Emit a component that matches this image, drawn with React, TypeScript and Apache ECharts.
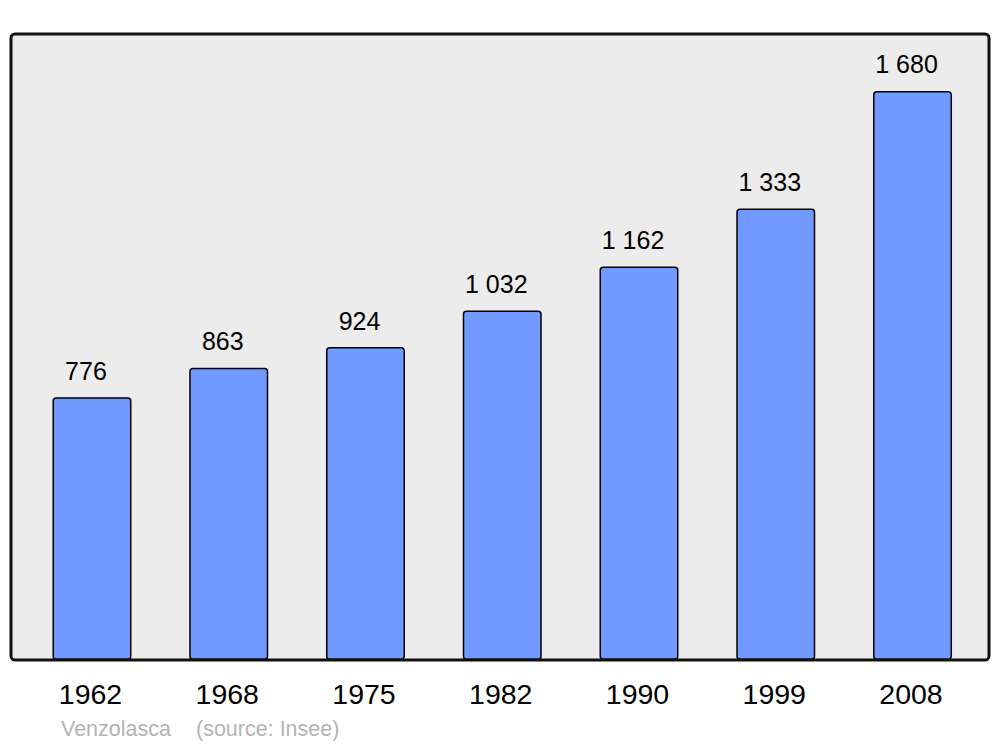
import React, { useEffect, useRef } from "react";
import * as echarts from "echarts";

const years = ["1962", "1968", "1975", "1982", "1990", "1999", "2008"];
const population = [776, 863, 924, 1032, 1162, 1333, 1680];
const townName = "Venzolasca";
const sourceText = "(source: Insee)";

const fmt = (v: number) => String(v).replace(/\B(?=(\d{3})+(?!\d))/g, " ");

export default function App() {
  const ref = useRef<HTMLDivElement>(null);
  useEffect(() => {
    document.body.style.margin = "0";
    const chart = echarts.init(ref.current!, null, { renderer: "svg" });
    const font = "Liberation Sans, Arial, sans-serif";
    chart.setOption({
      animation: false,
      backgroundColor: "#ffffff",
      grid: { left: 23.6, right: 19.1, top: 34, bottom: 87, containLabel: false },
      xAxis: {
        type: "category",
        data: years,
        axisLine: { show: false },
        axisTick: { show: false },
        axisLabel: { fontSize: 28.5, color: "#000", fontFamily: font, margin: 19, padding: [0, 3, 0, 0] },
      },
      yAxis: {
        type: "value",
        min: 0,
        max: 1848,
        show: false,
        splitLine: { show: false },
      },
      graphic: [
        {
          type: "rect",
          z: -10,
          shape: { x: 11, y: 34, width: 978, height: 626, r: 4 },
          style: { fill: "#ececec", stroke: "none" },
        },
        {
          type: "rect",
          z: 100,
          shape: { x: 11, y: 34, width: 978, height: 626, r: 4 },
          style: { fill: "none", stroke: "#111111", lineWidth: 3 },
        },
        {
          type: "text",
          left: 61,
          top: 718,
          style: { text: townName, fontSize: 21.5, fill: "#b3b3b3", fontFamily: font },
        },
        {
          type: "text",
          left: 196,
          top: 718,
          style: { text: sourceText, fontSize: 21.5, fill: "#b3b3b3", fontFamily: font },
        },
      ],
      series: [
        {
          type: "bar",
          data: population,
          barWidth: 79,
          itemStyle: {
            color: "#7299ff",
            borderColor: "#000000",
            borderWidth: 1.5,
            borderRadius: 3,
          },
          label: {
            show: true,
            position: "top",
            distance: 14,
            offset: [-6, 0],
            fontSize: 25,
            color: "#000",
            fontFamily: font,
            formatter: (p: any) => fmt(p.value),
          },
        },
      ],
    });
    return () => chart.dispose();
  }, []);
  return <div ref={ref} style={{ width: 1000, height: 747 }} />;
}
